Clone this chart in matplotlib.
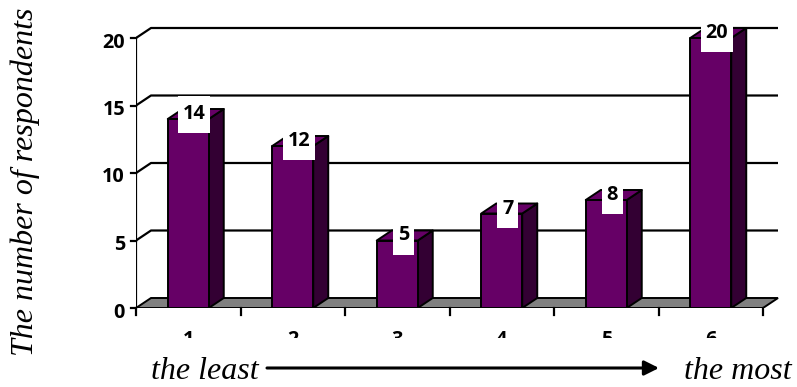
import matplotlib
matplotlib.use("Agg")
import matplotlib.pyplot as plt
from matplotlib.patches import Polygon, Rectangle, FancyArrowPatch
from matplotlib import transforms as mtransforms

# ---- data ----
categories = ["1", "2", "3", "4", "5", "6"]
respondents = [14, 12, 5, 7, 8, 20]
y_ticks = [0, 5, 10, 15, 20]
y_label = "The number of respondents"
scale_low = "the least"
scale_high = "the most"

# ---- figure / plot-area geometry (pixels) ----
W, H = 797, 387
fig = plt.figure(figsize=(W / 100, H / 100), dpi=100)
fig.patch.set_facecolor("white")

x0_px, x1_px = 136, 763      # front floor edge
y0_px, ytop_px = 308, 38     # value 0 and top tick on the front plane
right_px, top_px = 792, 12   # extent of the drawing axes

n = len(categories)
cat_px = (x1_px - x0_px) / n
unit_px = (y0_px - ytop_px) / max(y_ticks)

ax = fig.add_axes([x0_px / W, (H - y0_px) / H,
                   (right_px - x0_px) / W, (y0_px - top_px) / H])
ax.set_xlim(0, (right_px - x0_px) / cat_px)
ax.set_ylim(0, (y0_px - top_px) / unit_px)
ax.axis("off")

# 3-D depth offsets in data units
DX = 15 / cat_px
DY = 10 / unit_px
BW = 41 / cat_px

FRONT = "#660066"
SIDE = "#330033"
FLOOR = "#808080"
EDGE_LW = 1.4
GRID_LW = 1.6

tick_font = dict(family="Open Sans", weight="bold", size=14.3)
serif_font = dict(family="Liberation Serif", style="italic", size=23)

# floor
ax.add_patch(Polygon([(0, 0), (n, 0), (n + DX, DY), (DX, DY)],
                     closed=True, fc=FLOOR, ec="black", lw=EDGE_LW, zorder=1))

# back-wall gridlines with their left diagonals, and y ticks
ymax = max(y_ticks)
for v in y_ticks:
    if v > 0:
        ax.plot([0, DX, n + DX], [v, v + DY, v + DY], color="black",
                lw=GRID_LW, zorder=0.5, solid_capstyle="butt")
    ax.plot([-5 / cat_px, 0], [v, v], color="black", lw=GRID_LW,
            clip_on=False, zorder=2)
    ax.text(0, v, str(v), ha="right", va="baseline", color="black",
            transform=mtransforms.offset_copy(ax.transData, fig, x=-11, y=-9.5,
                                              units="dots"),
            **tick_font)

# front value axis
ax.plot([0, 0], [0, ymax], color="black", lw=GRID_LW, zorder=2)

# category ticks
for i in range(n + 1):
    ax.plot([i, i], [0, -7 / unit_px], color="black", lw=GRID_LW,
            clip_on=False, zorder=2)

# category labels (cut off at the bottom of the chart area)
clip = mtransforms.TransformedBbox(
    mtransforms.Bbox([[0, (H - 338) / H], [1, 1]]), fig.transFigure)
lab_trans = mtransforms.blended_transform_factory(ax.transData, fig.transFigure)
for i, cat in enumerate(categories):
    t = ax.text(i + 0.5, (H - 345) / H, cat, ha="center", va="baseline",
                transform=lab_trans, color="black", **tick_font)
    t.set_clip_box(clip)
    t.set_clip_on(True)

# bars
for i, v in enumerate(respondents):
    c = i + 0.5
    L, R = c - BW / 2, c + BW / 2
    ax.add_patch(Polygon([(R, 0), (R + DX, DY), (R + DX, v + DY), (R, v)],
                         closed=True, fc=SIDE, ec="black", lw=EDGE_LW,
                         zorder=3, joinstyle="round"))
    ax.add_patch(Polygon([(L, v), (R, v), (R + DX, v + DY), (L + DX, v + DY)],
                         closed=True, fc=FRONT, ec="black", lw=EDGE_LW,
                         zorder=3, joinstyle="round"))
    ax.add_patch(Rectangle((L, 0), BW, v, fc=FRONT, ec="black", lw=EDGE_LW,
                           zorder=3.1, joinstyle="round"))

    # value label on a white box
    xc = c + 0.4 * DX
    txt = str(v)
    box_w = (11 * len(txt) + 10) / 100
    box_trans = fig.dpi_scale_trans + mtransforms.ScaledTranslation(
        xc, v, ax.transData)
    ax.add_patch(Rectangle((-box_w / 2, -0.14), box_w, 0.37, fc="white",
                           ec="none", transform=box_trans, zorder=4,
                           clip_on=False))
    ax.text(xc, v, txt, ha="center", va="baseline", color="black",
            zorder=5, **tick_font)

# scale captions and arrow
fig.text(205 / W, (H - 379) / H, scale_low, ha="center", va="baseline",
         **serif_font)
fig.text(738 / W, (H - 379) / H, scale_high, ha="center", va="baseline",
         **serif_font)
fig.add_artist(FancyArrowPatch(
    (267 / W, (H - 368) / H), (659 / W, (H - 368) / H),
    transform=fig.transFigure, arrowstyle="-|>", mutation_scale=22,
    lw=2.2, color="black", shrinkA=0, shrinkB=0))

# value-axis title
fig.text(25 / W, (H - 182) / H, y_label, rotation=90, ha="center",
         va="center", **serif_font)

fig.savefig("out.png", dpi=100, facecolor="white")
